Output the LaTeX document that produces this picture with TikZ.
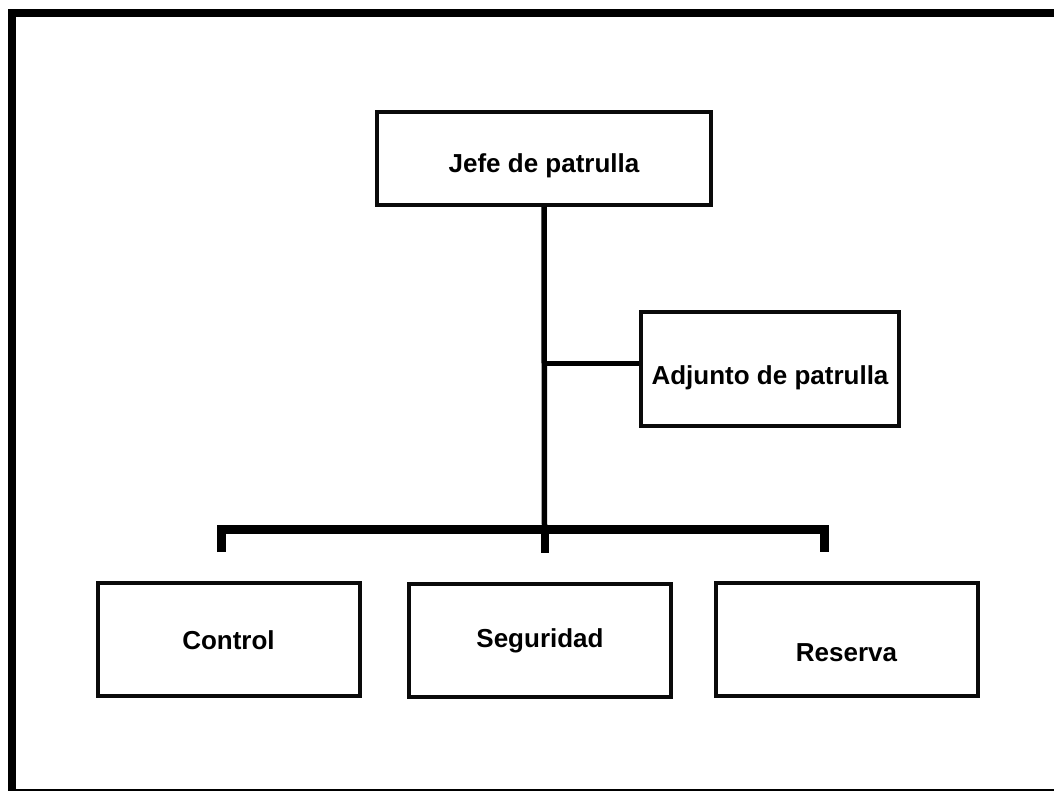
\documentclass[tikz,border=0pt]{standalone}
\usepackage{fontspec}
\setmainfont{Liberation Sans}
\usepackage{tikz}
\definecolor{frame_black}{RGB}{0,0,0}
\definecolor{box_black}{RGB}{10,10,10}

\begin{document}
\begin{tikzpicture}[x=0.5pt,y=-0.5pt,line join=miter]
    \tikzstyle{box}=[draw=box_black, line width=2pt, rectangle, inner sep=0pt, text depth=3pt, font=\fontsize{13}{15}\selectfont\bfseries]
    \tikzstyle{chief}=[style=box, minimum width=167pt, minimum height=46.5pt]
    \tikzstyle{deputy}=[style=box, minimum width=129pt, minimum height=57pt]
    \tikzstyle{team}=[style=box, minimum width=131pt, minimum height=56.5pt]
    \tikzstyle{link}=[frame_black, line width=2.75pt]
    \tikzstyle{bus}=[frame_black, line width=4.5pt]

    \useasboundingbox (0,0) rectangle (1054,791);
    \begin{scope}
      \clip (0,0) rectangle (1054,791);
      \draw[frame_black, line width=4pt] (12,13.5) rectangle (1060,793);
    \end{scope}

    \node[chief,  text height=16.8pt] (jefe) at (544,158.5)   {Jefe de patrulla};
    \node[deputy, text height=18.8pt] (adj)  at (770,369)     {Adjunto de patrulla};
    \node[team,   text height=13.3pt] (ctrl) at (228.5,639.5) {Control};
    \node[team,   text height=10.8pt] (seg)  at (540,640)     {Seguridad};
    \node[team,   text height=24.8pt] (res)  at (846.5,639.5) {Reserva};

    \coordinate (tap)    at (544.5,363.5);
    \coordinate (bus_l)  at (221.5,529.5);
    \coordinate (bus_c)  at (544.5,529.5);
    \coordinate (bus_r)  at (824.5,529.5);
    \coordinate (drop_l) at (221.5,552);
    \coordinate (drop_c) at (544.5,553);
    \coordinate (drop_r) at (824.5,552);

    \draw[bus] (drop_l) -- (bus_l) -- (bus_r) -- (drop_r);
    \path
     (jefe.south) edge[link] (bus_c)
     (tap) edge[link] (tap -| adj.west)
     (bus_c) edge[bus, line width=4pt] (drop_c)
     ;
\end{tikzpicture}
\end{document}
